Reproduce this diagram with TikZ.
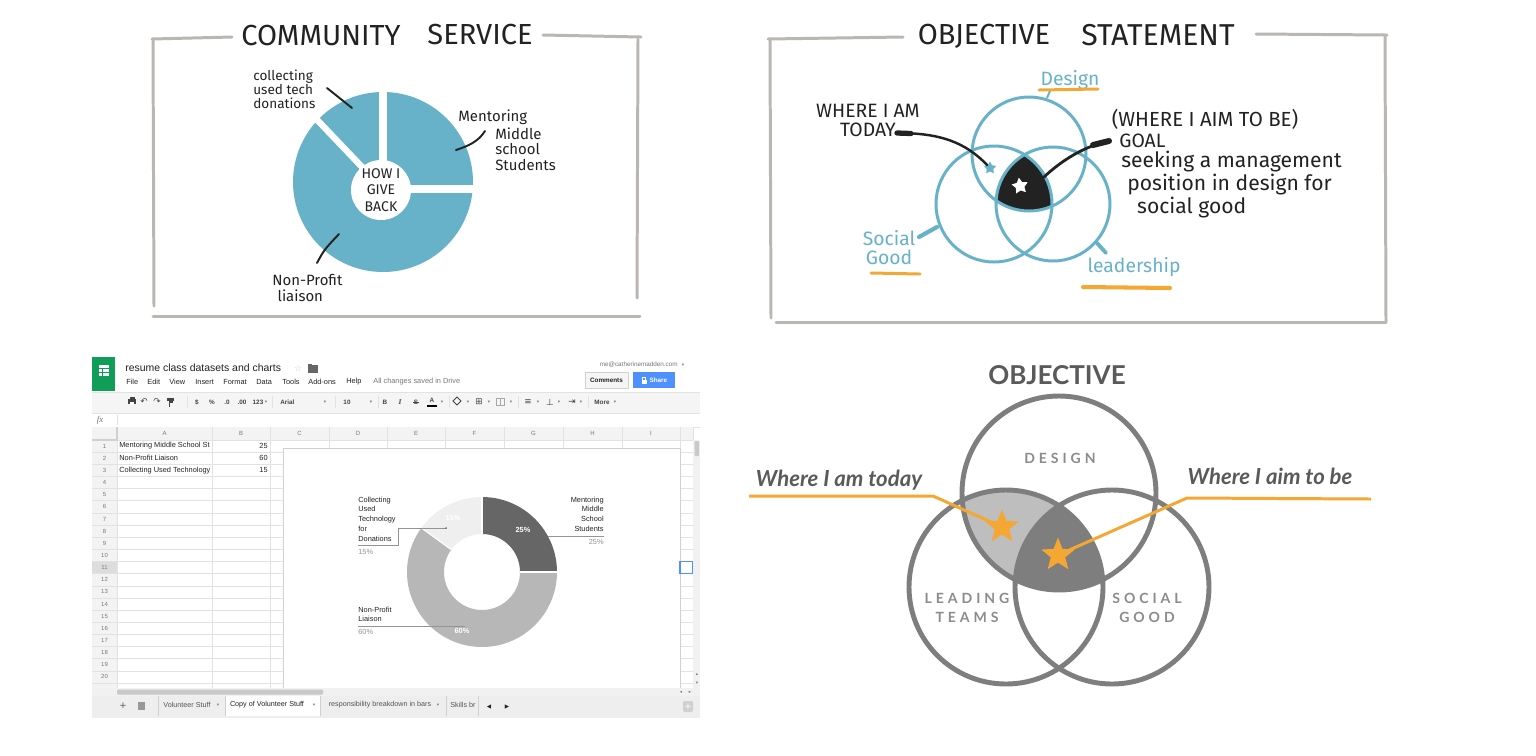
\documentclass[tikz,border=0pt]{standalone}
\usepackage{fontspec}
\setmainfont{Liberation Sans}
\newfontfamily\handfont{Fira Sans}
\newfontfamily\uifont{Liberation Sans}
\newfontfamily\fxfont{Liberation Serif}
\newfontfamily\venfont{Lato}
\newfontfamily\venwide[LetterSpace=28]{Lato}
\newfontfamily\symfont{DejaVu Sans}
\usetikzlibrary{
  arrows.meta, positioning, calc, shapes.geometric
}
\definecolor{ink}{HTML}{222222}
\definecolor{pencilgray}{HTML}{BAB7B0}
\definecolor{sketchteal}{HTML}{67B2C8}
\definecolor{marker}{HTML}{F5A733}
\definecolor{sheetink}{HTML}{222222}
\definecolor{sheetmuted}{HTML}{777777}
\definecolor{toolgray}{HTML}{444444}
\definecolor{tabgray}{HTML}{555555}
\definecolor{sheetline}{HTML}{E2E2E2}
\definecolor{sheethead}{HTML}{F3F3F3}
\definecolor{rowsel}{HTML}{DDDDDD}
\definecolor{toolbg}{HTML}{F5F5F5}
\definecolor{scrolltrack}{HTML}{F1F1F1}
\definecolor{scrollthumb}{HTML}{C9C9C9}
\definecolor{tabbar}{HTML}{EEEEEE}
\definecolor{chartline}{HTML}{D0D0D0}
\definecolor{sheetgreen}{HTML}{0F9D58}
\definecolor{sheetblue}{HTML}{4D90FE}
\definecolor{slicedark}{HTML}{666666}
\definecolor{slicemid}{HTML}{B7B7B7}
\definecolor{slicelight}{HTML}{EFEFEF}
\definecolor{vengray}{HTML}{7E7E7E}
\definecolor{venlight}{HTML}{BEBEBE}
\definecolor{ventext}{HTML}{5A5A5A}
\definecolor{venlabel}{HTML}{8C8C8C}
\tikzset{
  frameline/.style={draw=pencilgray, line width=1.7pt, line cap=round},
  sketchtitle/.style={font=\handfont\fontsize{16.5pt}{18pt}\selectfont, text=ink, inner sep=0pt},
  handnote/.style={font=\handfont\fontsize{7.7pt}{7.9pt}\selectfont, text=ink, align=left, inner sep=0pt},
  handlabel/.style={font=\handfont\fontsize{8.5pt}{9pt}\selectfont, text=ink, align=left, inner sep=0pt},
  handbig/.style={font=\handfont\fontsize{11pt}{10.8pt}\selectfont, text=ink, align=center, inner sep=0pt},
  handwide/.style={font=\handfont\fontsize{12pt}{11.3pt}\selectfont, text=ink, align=left, inner sep=0pt},
  handteal/.style={handbig, text=sketchteal},
  pointer/.style={draw=ink, line width=1.1pt, line cap=round},
  ring/.style={draw=sketchteal, line width=1.7pt},
  highlight/.style={draw=marker, line width=1.7pt, line cap=round},
  %
  uitext/.style={font=\uifont\fontsize{4.2pt}{5pt}\selectfont, text=sheetink, inner sep=0pt},
  uimuted/.style={uitext, text=sheetmuted},
  tooltext/.style={font=\uifont\bfseries\fontsize{3.6pt}{4pt}\selectfont, text=toolgray, inner sep=0pt},
  toolsym/.style={font=\symfont\fontsize{5pt}{5pt}\selectfont, text=toolgray, inner sep=0pt},
  dropmark/.style={font=\symfont\fontsize{2.6pt}{3pt}\selectfont, text=sheetmuted, inner sep=0pt},
  gridline/.style={draw=sheetline, line width=0.35pt},
  toolsep/.style={draw=sheetline, line width=0.4pt},
  colhead/.style={font=\uifont\fontsize{3.4pt}{4pt}\selectfont, text=sheetmuted, inner sep=0pt},
  sheetcell/.style={font=\uifont\fontsize{4.2pt}{5pt}\selectfont, text=sheetink, inner sep=0pt},
  chartlbl/.style={font=\uifont\fontsize{4.2pt}{5.55pt}\selectfont, text=sheetink, inner sep=0pt},
  chartpct/.style={chartlbl, text=sheetmuted!80},
  slicepct/.style={font=\uifont\bfseries\fontsize{4.2pt}{5pt}\selectfont, text=white, inner sep=0pt},
  leader/.style={draw=slicedark!70, line width=0.35pt},
  sheettab/.style={font=\uifont\fontsize{4.1pt}{5pt}\selectfont, text=tabgray, inner sep=0pt},
  tabline/.style={draw=chartline, line width=0.4pt},
  %
  venring/.style={draw=vengray, line width=2.8pt},
  venlbl/.style={font=\venwide\bfseries\fontsize{8pt}{10.8pt}\selectfont, text=venlabel, align=center, inner sep=0pt},
  venquote/.style={font=\venfont\bfseries\itshape\fontsize{12.6pt}{13pt}\selectfont, text=ventext, inner sep=0pt},
  orangeline/.style={draw=marker, line width=1.7pt, line join=round},
  goldstar/.style={star, star points=5, star point ratio=2.3, fill=marker, minimum size=0.7cm, inner sep=0pt},
}

\begin{document}
\begin{tikzpicture}[x=0.02cm, y=-0.02cm]
  \useasboundingbox (0,0) rectangle (1536,755);
  \fill[white] (0,0) rectangle (1536,755);

  % community service sketch
  \draw[frameline] (152,39) -- (232,37);
  \draw[frameline] (543,35) -- (641,37);
  \draw[frameline] (153,39) -- (154,306);
  \draw[frameline] (638,39) -- (637,298);
  \draw[frameline] (153,316) -- (640,316);
  \node[sketchtitle] (csword) at (321,36) {COMMUNITY};
  \node[sketchtitle] (csservice) at (480,35) {SERVICE};

  \coordinate (give) at (383,182);
  \coordinate (hole) at (381,190);
  \fill[sketchteal] (give) circle (90);
  \draw[white, line width=4pt] (383,189) -- (383,85);
  \draw[white, line width=4pt] (380,189) -- (480,189);
  \draw[white, line width=3.6pt] (383,189) -- (302,104);
  \fill[white] (hole) circle (30);

  \node[handnote, anchor=west] (collect) at (253,89) {collecting\\used tech\\donations};
  \node[handlabel, anchor=west] (mentorA) at (458,117) {Mentoring};
  \node[handlabel, anchor=north west] (mentorB) at (495,127) {Middle\\school\\Students};
  \node[handlabel, align=center, font=\handfont\fontsize{8pt}{9.5pt}\selectfont] (giveback) at (hole) {HOW I\\GIVE\\BACK};
  \node[handlabel, anchor=west] (liaison) at (272,288) {Non-Profit\\\hspace*{3pt}liaison};

  \coordinate (collectFrom) at (327,88);
  \coordinate (collectTip) at (352,108);
  \coordinate (mentorFrom) at (485,131);
  \coordinate (mentorTip) at (456,150);
  \coordinate (liaisonFrom) at (317,263);
  \coordinate (liaisonTip) at (339,234);
  \draw[pointer] (collectFrom) -- (collectTip);
  \draw[pointer] (mentorFrom) .. controls (478,142) and (468,146) .. (mentorTip);
  \draw[pointer] (liaisonFrom) .. controls (324,250) .. (liaisonTip);

  % objective statement sketch
  \draw[frameline] (768,39) -- (903,37);
  \draw[frameline] (1256,34) -- (1387,35);
  \draw[frameline] (770,39) -- (771,318);
  \draw[frameline] (1385,36) -- (1386,321);
  \draw[frameline] (776,322) -- (1386,322);
  \node[sketchtitle] (osobjective) at (984,36) {OBJECTIVE};
  \node[sketchtitle, font=\handfont\fontsize{17.2pt}{18pt}\selectfont] (osstatement) at (1158,35) {STATEMENT};

  \coordinate (sDesign) at (1029,154);
  \coordinate (sSocial) at (994,204);
  \coordinate (sLead) at (1053,204);
  \begin{scope}
    \clip (sDesign) circle (57);
    \clip (sSocial) circle (58);
    \fill[ink] (sLead) circle (57);
  \end{scope}
  \draw[ring] (sDesign) circle (57);
  \draw[ring] (sSocial) circle (58);
  \draw[ring] (sLead) circle (57);
  \node[star, star points=5, star point ratio=1.9, fill=white, minimum size=0.34cm, inner sep=0pt, rotate=8] (goalmark) at (1020,186) {};
  \node[star, star points=5, star point ratio=1.9, fill=sketchteal, minimum size=0.26cm, inner sep=0pt] (todaymark) at (990,168) {};

  \node[handbig] (whereami) at (868,120) {WHERE I AM\\TODAY};
  \node[handbig, font=\handfont\fontsize{11.6pt}{11pt}\selectfont] (aimto) at (1205,119) {(WHERE I AIM TO BE)};
  \node[handbig, anchor=west] (goal) at (1119,141) {GOAL};
  \node[handwide, anchor=north west] (seeking) at (1121,151) {seeking a management\\\hspace*{3.4pt}position in design for\\\hspace*{9pt}social good};

  \coordinate (todayFrom) at (897,133);
  \coordinate (goalFrom) at (1109,141);
  \coordinate (goalTo) at (1044,177);
  \draw[pointer, line width=1.4pt] (todayFrom) .. controls (940,133) and (965,142) .. (todaymark);
  \draw[pointer, line width=3pt] (todayFrom) -- ++(14,0.5);
  \draw[pointer, line width=1.6pt] (goalFrom) .. controls (1085,146) and (1062,160) .. (goalTo);
  \draw[pointer, line width=3.4pt] (goalFrom) -- ++(-16,4);

  \node[handteal] (design) at (1070,80) {Design};
  \draw[highlight] (1039,90) -- (1098,89);
  \draw[ring, line width=1.1pt] (1047,98) -- (1050,91);
  \node[handteal] (socgood) at (889,248) {Social\\Good};
  \draw[highlight] (871,273) -- (920,274);
  \draw[ring, line width=2.4pt, line cap=round] (919,237) -- (937,227);
  \node[handteal] (leadership) at (1134,267) {leadership};
  \draw[highlight, line width=2.3pt] (1083,287) -- (1170,288);
  \draw[ring, line width=2.2pt, line cap=round] (1097,243) -- (1106,253);

  % spreadsheet screenshot
  \fill[white] (92,355) rectangle (700,718);
  \fill[sheetgreen] (92,357) rectangle (115,391);
  \fill[white] (99,365) rectangle (109,376);
  \draw[sheetgreen, line width=0.5pt] (99,368.5) -- (109,368.5) (99,372) -- (109,372) (102.5,368.5) -- (102.5,376);
  \node[uitext, anchor=west, font=\uifont\fontsize{5.95pt}{6pt}\selectfont] (doctitle) at (125,368) {resume class datasets and charts};
  \node[toolsym, text=chartline] (starred) at (298,368) {☆};
  \fill[slicedark] (308,365) rectangle (318,373);
  \fill[slicedark] (308,364) rectangle (312,366);
  \foreach \x/\t in {126/File, 147/Edit, 169/View, 195/Insert, 223/Format, 256/Data, 282/Tools, 308/Add-ons, 346/Help}
    \node[uitext, anchor=west] (menu\x) at (\x,382) {\t};
  \node[uimuted, anchor=west] (saved) at (373,382) {All changes saved in Drive};
  \node[uimuted, anchor=east, font=\uifont\fontsize{3.6pt}{4pt}\selectfont] (email) at (678,365) {me@catherinemadden.com};
  \node[dropmark] (emaildrop) at (683,365) {▾};
  \node[draw=chartline, fill=toolbg, minimum width=0.86cm, minimum height=0.32cm, inner sep=0pt,
        font=\uifont\bfseries\fontsize{3.6pt}{4pt}\selectfont, text=sheetink] (comments) at (606.5,380) {Comments};
  \node[fill=sheetblue, minimum width=0.84cm, minimum height=0.32cm, inner sep=0pt,
        font=\uifont\bfseries\fontsize{3.6pt}{4pt}\selectfont, text=white] (share) at (654,380) {\hspace*{5pt}Share};
  \fill[white] (641.5,379.5) rectangle (646.5,384);
  \draw[white, line width=0.4pt] (642.8,379.5) -- (642.8,377.5) -- (645.2,377.5) -- (645.2,379.5);

  \fill[toolbg] (92,392) rectangle (700,413);
  \draw[gridline] (92,392) -- (700,392) (92,413) -- (700,413);
  \fill[toolgray] (128,399) rectangle (136,404);
  \fill[toolgray] (129.5,396.5) rectangle (134.5,398.5);
  \fill[white] (130,402) rectangle (134,404.5);
  \node[toolsym] (undo) at (144,402) {↶};
  \node[toolsym] (redo) at (157,402) {↷};
  \fill[toolgray] (167,397.5) rectangle (174,400.5);
  \draw[toolgray, line width=0.6pt] (172,400.5) -- (172,402) -- (169.5,402) -- (169.5,406.5);
  \foreach \x/\t in {197/\$, 212/\%, 227/.0, 242/.00, 258/123, 347/10, 385/B, 602/More}
    \node[tooltext] (tool\x) at (\x,402) {\t};
  \node[tooltext, anchor=west] (fontname) at (280,402) {Arial};
  \node[tooltext, font=\fxfont\itshape\bfseries\fontsize{4.2pt}{5pt}\selectfont] (italic) at (400,402) {I};
  \node[tooltext] (strike) at (416,402) {S};
  \draw[toolgray, line width=0.3pt] (413,402) -- (419,402);
  \node[tooltext] (fontcolor) at (432,400.5) {A};
  \fill[black] (427,405) rectangle (437,407);
  \draw[toolgray, line width=0.5pt] (457,397) -- (461,401) -- (457,405) -- (453,401) -- cycle;
  \node[toolsym] (borders) at (479,402) {⊞};
  \draw[chartline!80!black, line width=0.4pt] (496,398.5) rectangle (504,405.5) (500,398.5) -- (500,405.5);
  \node[toolsym] (alignh) at (528,402) {≡};
  \node[toolsym] (alignv) at (550,402) {⊥};
  \node[toolsym] (wrap) at (572,402) {⇥};
  \foreach \x in {266,325,371,442,468,489,511,538,559,581,615}
    \node[dropmark] (drop\x) at (\x,402.5) {▾};
  \foreach \x in {187,272,335,378,449,518,588}
    \draw[toolsep] (\x,396) -- (\x,408);

  \node[font=\fxfont\itshape\fontsize{5pt}{5pt}\selectfont, text=sheetmuted, inner sep=0pt] (fx) at (100,420) {fx};
  \draw[gridline] (117,415) -- (117,425);
  \draw[gridline] (92,427) -- (700,427);

  \fill[sheethead] (92,427) rectangle (693,440);
  \fill[sheethead] (92,440) rectangle (117,690);
  \fill[rowsel] (92,561.5) rectangle (117,573.6);
  \foreach \x in {117,212,270,329,387,445,504,563,622,680,693}
    \draw[gridline] (\x,427) -- (\x,688);
  \foreach \n in {0,...,20}
    \draw[gridline] (92,{440+\n*12.15}) -- (693,{440+\n*12.15});
  \draw[chartline, line width=1.1pt] (92,440) -- (117,440) -- (117,427);
  \foreach \c/\x in {A/164.5,B/241,C/299.5,D/358,E/416,F/474.5,G/533.5,H/592.5,I/651}
    \node[colhead] (col\c) at (\x,433.5) {\c};
  \foreach \n in {1,...,20}
    \node[colhead] (row\n) at (104.5,{440+(\n-0.5)*12.15}) {\n};

  \begin{scope}
    \clip (117,440) rectangle (211.5,477);
    \node[sheetcell, anchor=west] (cellA1) at (119,446) {Mentoring Middle School St};
    \node[sheetcell, anchor=west] (cellA2) at (119,458.2) {Non-Profit Liaison};
    \node[sheetcell, anchor=west] (cellA3) at (119,470.3) {Collecting Used Technology};
  \end{scope}
  \node[sheetcell, anchor=east] (cellB1) at (268,446) {25};
  \node[sheetcell, anchor=east] (cellB2) at (268,458.2) {60};
  \node[sheetcell, anchor=east] (cellB3) at (268,470.3) {15};

  % chart
  \draw[chartline, fill=white] (283,448) rectangle (680,688);
  \coordinate (dc) at (482,572);
  \fill[slicedark] ($(dc)+(-90:75)$) arc[start angle=-90, end angle=0, radius=75]
    -- ($(dc)+(0:38)$) arc[start angle=0, end angle=-90, radius=38] -- cycle;
  \fill[slicemid] ($(dc)+(0:75)$) arc[start angle=0, end angle=216, radius=75]
    -- ($(dc)+(216:38)$) arc[start angle=216, end angle=0, radius=38] -- cycle;
  \fill[slicelight] ($(dc)+(216:75)$) arc[start angle=216, end angle=270, radius=75]
    -- ($(dc)+(270:38)$) arc[start angle=270, end angle=216, radius=38] -- cycle;
  \foreach \a in {-90,0,216}
    \draw[white, line width=0.6pt] ($(dc)+(\a:38)$) -- ($(dc)+(\a:75)$);
  \node[slicepct] (pct25) at (523,530) {25\%};
  \node[slicepct] (pct60) at (462,631) {60\%};
  \node[slicepct] (pct15) at (453,518) {15\%};

  \node[chartlbl, anchor=north west, align=left] (lblcollect) at (358,496.5) {Collecting\\Used\\Technology\\for\\Donations};
  \node[chartpct, anchor=west] (pctcollect) at (358,552) {15\%};
  \coordinate (collectEnd) at (446,528);
  \draw[leader] (358,545) -- (398,545) -- (398,528) -- (collectEnd);
  \fill[slicedark] (collectEnd) circle (1);
  \node[chartlbl, anchor=north east, align=right] (lblmentor) at (604,496.5) {Mentoring\\Middle\\School\\Students};
  \draw[leader] (548,536) -- (604,536);
  \node[chartpct, anchor=east] (pctmentor) at (604,542) {25\%};
  \node[chartlbl, anchor=north west, align=left] (lblliaison) at (358,606.5) {Non-Profit\\Liaison};
  \draw[leader] (358,626) -- (465,626);
  \node[chartpct, anchor=west] (pctliaison) at (358,632) {60\%};

  \draw[sheetblue, line width=0.6pt] (680,561.5) rectangle (693,573.6);

  % scroll bars and sheet tabs
  \fill[scrolltrack] (693,440) rectangle (700,690);
  \fill[scrollthumb, rounded corners=0.5pt] (694.5,441) rectangle (699,456);
  \node[dropmark] (vup) at (697,674) {▴};
  \node[dropmark] (vdown) at (697,683) {▾};
  \fill[scrolltrack] (92,688) rectangle (700,696);
  \fill[scrollthumb, rounded corners=0.5pt] (117,689.5) rectangle (323,694.5);
  \node[dropmark] (hleft) at (681,692) {◂};
  \node[dropmark] (hright) at (690,692) {▸};
  \fill[tabbar] (92,696) rectangle (700,718);
  \node[toolsym, text=tabgray] (addsheet) at (123,706) {+};
  \fill[tabgray!60] (138,702) rectangle (145,710);
  \fill[white] (225,696) rectangle (320,716);
  \foreach \x in {158,225,320,446,478}
    \draw[tabline] (\x,696) -- (\x,716);
  \node[sheettab] (tabA) at (187,705) {Volunteer Stuff};
  \node[dropmark] (tabAdrop) at (218,705) {▾};
  \node[sheettab, text=sheetink] (tabB) at (267,705) {Copy of Volunteer Stuff};
  \node[dropmark] (tabBdrop) at (314,705) {▾};
  \node[sheettab] (tabC) at (380,705) {responsibility breakdown in bars};
  \node[dropmark] (tabCdrop) at (438,705) {▾};
  \begin{scope}
    \clip (447,696) rectangle (478,716);
    \node[sheettab, anchor=west] (tabD) at (450,705) {Skills br};
  \end{scope}
  \node[dropmark, text=sheetink, font=\symfont\fontsize{3.2pt}{3.5pt}\selectfont] (tabprev) at (489,707) {◀};
  \node[dropmark, text=sheetink, font=\symfont\fontsize{3.2pt}{3.5pt}\selectfont] (tabnext) at (507,707) {▶};
  \fill[chartline, rounded corners=0.8pt] (683,701) rectangle (693,712);
  \node[toolsym, text=white] (explore) at (688,706.5) {+};

  % objective venn
  \node[font=\venfont\bfseries\fontsize{14.8pt}{16pt}\selectfont, text=ventext, inner sep=0pt] (objective) at (1057,375) {OBJECTIVE};
  \coordinate (vDesign) at (1059,493);
  \coordinate (vLead) at (1006,587);
  \coordinate (vSocial) at (1112,587);
  \begin{scope}
    \clip (vDesign) circle (97);
    \fill[venlight] (vLead) circle (97);
    \clip (vLead) circle (97);
    \fill[vengray] (vSocial) circle (97);
  \end{scope}
  \draw[venring] (vDesign) circle (97);
  \draw[venring] (vLead) circle (97);
  \draw[venring] (vSocial) circle (97);
  \node[venlbl] (designlbl) at (1060,458) {DESIGN};
  \node[venlbl] (leadlbl) at (967,608) {LEADING\\TEAMS};
  \node[venlbl] (sociallbl) at (1147,608) {SOCIAL\\GOOD};

  \node[venquote] (todaytxt) at (839,480) {Where I am today};
  \node[venquote] (aimtxt) at (1270,476) {Where I aim to be};
  \coordinate (todayEnd) at (749,496);
  \coordinate (todayBend) at (933,496);
  \coordinate (todayPt) at (1002,527);
  \coordinate (aimEnd) at (1371,499);
  \coordinate (aimBend) at (1187,498);
  \coordinate (aimPt) at (1058,555);
  \draw[orangeline] (todayEnd) -- (todayBend) -- (todayPt);
  \draw[orangeline] (aimEnd) -- (aimBend) -- (aimPt);
  \node[goldstar] (todaystar) at (todayPt) {};
  \node[goldstar] (aimstar) at (aimPt) {};

\end{tikzpicture}
\end{document}
